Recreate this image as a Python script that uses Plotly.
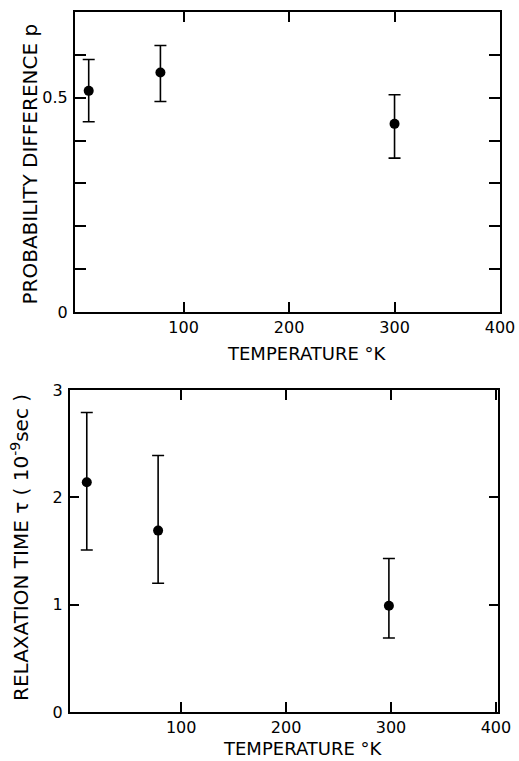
import plotly.graph_objects as go

# ---- data ----
temp = [10, 78, 300]
p_val = [0.516, 0.559, 0.439]
p_hi = [0.589, 0.622, 0.507]
p_lo = [0.444, 0.491, 0.359]

tau_temp = [10, 78, 298]
tau_val = [2.14, 1.69, 0.99]
tau_hi = [2.79, 2.39, 1.43]
tau_lo = [1.51, 1.20, 0.69]

x_ticks = [100, 200, 300, 400]
x_ticklabels = ["100", "200", "300", "400"]
p_ticks = [0, 0.5]
p_ticklabels = ["0", "0.5"]
tau_ticks = [0, 1, 2, 3]
tau_ticklabels = ["0", "1", "2", "3"]

W, H = 519, 761
FONT = "DejaVu Sans"

fig = go.Figure()

fig.add_trace(go.Scatter(
    x=temp, y=p_val, mode="markers",
    marker=dict(color="black", size=10),
    error_y=dict(type="data", symmetric=False,
                 array=[h - v for h, v in zip(p_hi, p_val)],
                 arrayminus=[v - l for v, l in zip(p_val, p_lo)],
                 color="black", thickness=1.6, width=6),
    xaxis="x", yaxis="y", showlegend=False))

fig.add_trace(go.Scatter(
    x=tau_temp, y=tau_val, mode="markers",
    marker=dict(color="black", size=10),
    error_y=dict(type="data", symmetric=False,
                 array=[h - v for h, v in zip(tau_hi, tau_val)],
                 arrayminus=[v - l for v, l in zip(tau_val, tau_lo)],
                 color="black", thickness=1.6, width=6),
    xaxis="x2", yaxis="y2", showlegend=False))

axis_common = dict(showline=True, linecolor="black", linewidth=2, mirror="allticks",
                   ticks="inside", tickcolor="black", tickwidth=1.6,
                   showgrid=False, zeroline=False, automargin=False,
                   tickfont=dict(family=FONT, size=16, color="black"))

fig.update_layout(
    width=W, height=H,
    margin=dict(l=0, r=0, t=0, b=0, autoexpand=False),
    paper_bgcolor="white", plot_bgcolor="white",
    font=dict(family=FONT, color="black"),
    xaxis=dict(domain=[75 / W, 500 / W], range=[-3, 400], anchor="y",
               tickvals=x_ticks, ticktext=x_ticklabels, ticklen=10, **axis_common),
    yaxis=dict(domain=[1 - 312 / H, 1 - 12 / H], range=[0, 0.7], anchor="x",
               tickvals=p_ticks, ticktext=p_ticklabels, ticklen=11,
               minor=dict(dtick=0.1, tick0=0, ticks="inside", ticklen=11,
                          tickwidth=1.6, tickcolor="black"),
               ticklabelstandoff=2, **axis_common),
    xaxis2=dict(domain=[70 / W, 498 / W], range=[-6, 402], anchor="y2",
                tickvals=x_ticks, ticktext=x_ticklabels, ticklen=10, **axis_common),
    yaxis2=dict(domain=[1 - 712 / H, 1 - 390 / H], range=[0, 3], anchor="x2",
                tickvals=tau_ticks, ticktext=tau_ticklabels, ticklen=9,
                ticklabelstandoff=2, **axis_common),
)

ytitle_font = dict(family=FONT, size=20, color="black")
xtitle_font = dict(family=FONT, size=18, color="black")
fig.add_annotation(text="PROBABILITY DIFFERENCE p", textangle=-90,
                   x=29.5 / W, y=1 - 164 / H, xref="paper", yref="paper",
                   showarrow=False, font=ytitle_font, xanchor="center", yanchor="middle")
fig.add_annotation(text="TEMPERATURE °K",
                   x=307 / W, y=1 - 354 / H, xref="paper", yref="paper",
                   showarrow=False, font=xtitle_font, xanchor="center", yanchor="middle")
fig.add_annotation(text="RELAXATION TIME τ ( 10<sup>-9</sup>sec )", textangle=-90,
                   x=20 / W, y=1 - 548 / H, xref="paper", yref="paper",
                   showarrow=False, font=ytitle_font, xanchor="center", yanchor="middle")
fig.add_annotation(text="TEMPERATURE °K",
                   x=303 / W, y=1 - 761 / H, xref="paper", yref="paper",
                   showarrow=False, font=xtitle_font, xanchor="center", yanchor="bottom")

fig.write_html("out.html")
